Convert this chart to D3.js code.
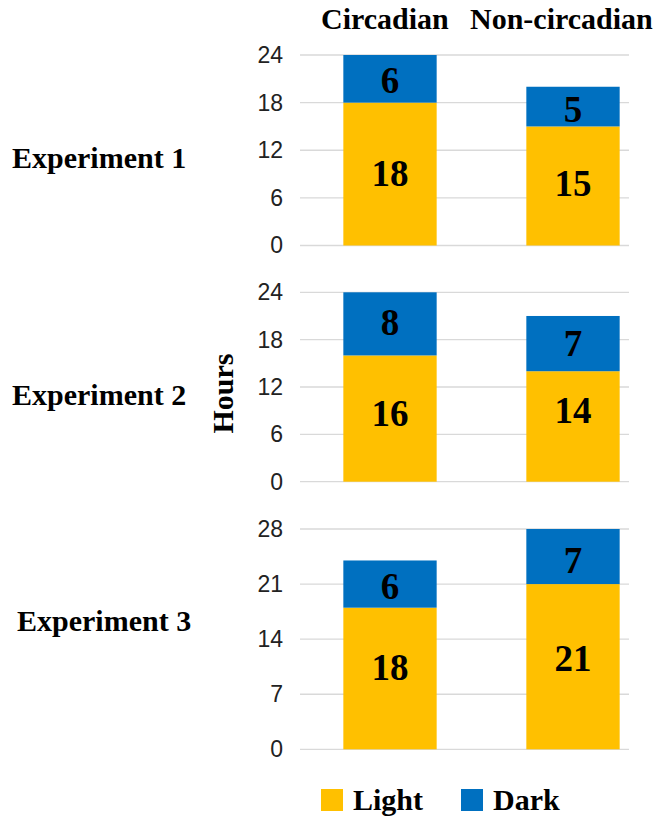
<!DOCTYPE html>
<html>
<head>
<meta charset="utf-8">
<script src="https://cdn.jsdelivr.net/npm/d3@7"></script>
<style>
  html, body { margin: 0; padding: 0; background: #fff; }
  svg { display: block; }
</style>
</head>
<body>
<svg id="chart" width="658" height="818"></svg>
<script>
// Light/dark hours per experiment, for the two groups
const conditions = ["Circadian", "Non-circadian"];
const experiments = ["Experiment 1", "Experiment 2", "Experiment 3"];
const lightHours = [[18, 15], [16, 14], [18, 21]];
const darkHours = [[6, 5], [8, 7], [6, 7]];
const axisMax = [24, 24, 28];
const tickValues = [[0, 6, 12, 18, 24], [0, 6, 12, 18, 24], [0, 7, 14, 21, 28]];
const seriesNames = ["Light", "Dark"];

const colors = { Light: "#FFC000", Dark: "#0070C0" };
const serif = "'Liberation Serif', 'Times New Roman', serif";
const sans = "'Liberation Sans', Arial, sans-serif";

// Panel geometry
const panels = [
  { top: 55, bottom: 245.5, labelX: 12, labelY: 168 },
  { top: 292.3, bottom: 481.7, labelX: 12, labelY: 405 },
  { top: 529, bottom: 749.3, labelX: 17, labelY: 631 }
];
const gridLeft = 300, gridRight = 629;

// Hand-placed vertical nudges (px) of the value labels inside their segments
const labelNudge = {
  Light: [[0, -2], [-4.5, -15.5], [-10.5, -8]],
  Dark: [[2, 3], [-1, 0], [3, 4]]
};

const svg = d3.select("#chart");

const x = d3.scaleBand()
  .domain(conditions)
  .range([298.5, 664.5])
  .paddingInner(0.49)
  .paddingOuter(0.245);

// Column headers
const headerX = [321, 470];
svg.selectAll("text.header")
  .data(conditions)
  .join("text")
  .attr("class", "header")
  .attr("x", (d, i) => headerX[i])
  .attr("y", 29)
  .attr("font-family", serif)
  .attr("font-weight", "bold")
  .attr("font-size", 30)
  .attr("fill", "#000")
  .text(d => d);

experiments.forEach((exp, e) => {
  const p = panels[e];
  const y = d3.scaleLinear().domain([0, axisMax[e]]).range([p.bottom, p.top]);
  const g = svg.append("g");

  // gridlines
  g.selectAll("line.grid")
    .data(tickValues[e])
    .join("line")
    .attr("class", "grid")
    .attr("x1", gridLeft).attr("x2", gridRight)
    .attr("y1", d => y(d)).attr("y2", d => y(d))
    .attr("stroke", "#d9d9d9")
    .attr("stroke-width", 1.3);

  // y axis labels
  const axis = d3.axisLeft(y).tickValues(tickValues[e]).tickSize(0).tickPadding(17);
  const ag = g.append("g").attr("transform", `translate(${gridLeft},0)`).call(axis);
  ag.select(".domain").remove();
  ag.selectAll("text")
    .attr("font-family", sans)
    .attr("font-size", 23)
    .attr("fill", "#222");

  // stacked bars
  const rows = conditions.map((c, i) => ({
    cond: c,
    Light: lightHours[e][i],
    Dark: darkHours[e][i]
  }));
  const stacked = d3.stack().keys(seriesNames)(rows);

  stacked.forEach(layer => {
    const key = layer.key;
    g.selectAll(`rect.${key}`)
      .data(layer)
      .join("rect")
      .attr("class", key)
      .attr("x", d => x(d.data.cond))
      .attr("width", x.bandwidth())
      .attr("y", d => y(d[1]))
      .attr("height", d => y(d[0]) - y(d[1]))
      .attr("fill", colors[key]);

    g.selectAll(`text.lbl${key}`)
      .data(layer)
      .join("text")
      .attr("class", `lbl${key}`)
      .attr("x", d => x(d.data.cond) + x.bandwidth() / 2)
      .attr("y", (d, i) => (y(d[0]) + y(d[1])) / 2 + labelNudge[key][e][i])
      .attr("dy", "0.33em")
      .attr("text-anchor", "middle")
      .attr("font-family", serif)
      .attr("font-weight", "bold")
      .attr("font-size", 37)
      .attr("fill", "#000")
      .text(d => d.data[key]);
  });

  // experiment label
  svg.append("text")
    .attr("x", p.labelX)
    .attr("y", p.labelY)
    .attr("font-family", serif)
    .attr("font-weight", "bold")
    .attr("font-size", 30)
    .attr("fill", "#000")
    .text(exp);
});

// y axis title
svg.append("text")
  .attr("transform", "translate(233,393.5) rotate(-90)")
  .attr("text-anchor", "middle")
  .attr("font-family", serif)
  .attr("font-weight", "bold")
  .attr("font-size", 30)
  .attr("fill", "#000")
  .text("Hours");

// legend
const legendX = [321, 461];
const lg = svg.selectAll("g.legend")
  .data(seriesNames)
  .join("g")
  .attr("class", "legend")
  .attr("transform", (d, i) => `translate(${legendX[i]},789)`);
lg.append("rect")
  .attr("width", 22).attr("height", 22)
  .attr("fill", d => colors[d]);
lg.append("text")
  .attr("x", 32)
  .attr("y", 21)
  .attr("font-family", serif)
  .attr("font-weight", "bold")
  .attr("font-size", 30)
  .attr("fill", "#000")
  .text(d => d);
</script>
</body>
</html>
